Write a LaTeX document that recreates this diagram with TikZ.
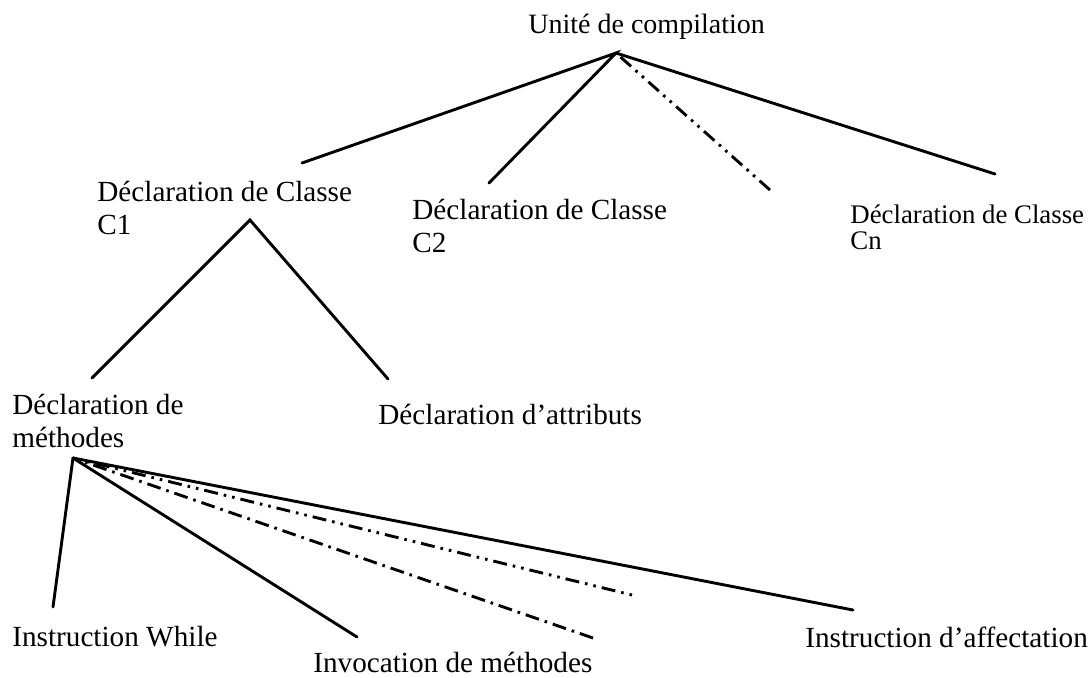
\documentclass[tikz,border=0pt]{standalone}
\usepackage{fontspec}
\setmainfont{Liberation Serif}
\begin{document}
\begin{tikzpicture}[x=0.5pt,y=-0.5pt,
  lbl/.style={anchor=base west,inner sep=0pt,font=\fontsize{14.6}{16.5}\selectfont},
  lblroot/.style={anchor=base west,inner sep=0pt,font=\fontsize{14}{16}\selectfont},
  lblsmall/.style={anchor=base west,inner sep=0pt,font=\fontsize{13.4}{12.5}\selectfont},
  edge/.style={line width=1.45pt,line cap=round},
  % dash first, then two dots (drawn from the free end)
  dashdotdot/.style={line width=1.45pt,line cap=butt,
    dash pattern=on 7pt off 3pt on 1.3pt off 3pt on 1.3pt off 3pt},
  % two dots first, then a dash (drawn from the free end)
  dotdotdash/.style={line width=1.45pt,line cap=butt,
    dash pattern=on 1.3pt off 3pt on 1.3pt off 3pt on 7pt off 3pt},
  dashdot/.style={line width=1.45pt,line cap=butt,
    dash pattern=on 7pt off 3pt on 1.3pt off 3pt}]
\useasboundingbox (0,0) rectangle (1092,677);

% labels
\node[lblroot] (root) at (528,33) {Unité de compilation};
\node[lbl] (c1a) at (97,201) {Déclaration de Classe};
\node[lbl] (c1b) at (97,234) {C1};
\node[lbl] (c2a) at (412,219) {Déclaration de Classe};
\node[lbl] (c2b) at (412,252) {C2};
\node[lblsmall] (cna) at (850,223) {Déclaration de Classe};
\node[lblsmall] (cnb) at (850,249) {Cn};
\node[lbl] (metha) at (12,414) {Déclaration de};
\node[lbl] (methb) at (12,447) {méthodes};
\node[lbl] (attr) at (378,424) {Déclaration d’attributs};
\node[lbl] (while) at (12,646) {Instruction While};
\node[lbl] (invoc) at (313,672) {Invocation de méthodes};
\node[lbl] (affect) at (805,647) {Instruction d’affectation};

% branch points and line ends
\coordinate (apexR) at (616,53);
\coordinate (eC1) at (302,163);
\coordinate (eC2) at (489,183);
\coordinate (eMore) at (770,190);
\coordinate (eCn) at (995,174);
\coordinate (apexC1) at (250,220);
\coordinate (eMeth) at (92,378);
\coordinate (eAttr) at (388,379);
\coordinate (apexM) at (73,458);
\coordinate (eWhile) at (53,607);
\coordinate (eInv) at (357,637);
\coordinate (eMoreA) at (632,595);
\coordinate (eMoreB) at (593,638);
\coordinate (eAff) at (853,610);

% compilation unit
\draw[edge] (eC1) -- (apexR) -- (eC2);
\draw[edge] (apexR) -- (eCn);
\draw[dashdotdot] (eMore) -- (apexR);

% class C1
\draw[edge] (eMeth) -- (apexC1) -- (eAttr);

% method declarations
\draw[edge] (apexM) -- (eWhile);
\draw[edge] (apexM) -- (eInv);
\draw[edge] (apexM) -- (eAff);
\draw[dotdotdash] (eMoreA) -- (apexM);
\draw[dashdot] (eMoreB) -- (apexM);
\end{tikzpicture}
\end{document}
